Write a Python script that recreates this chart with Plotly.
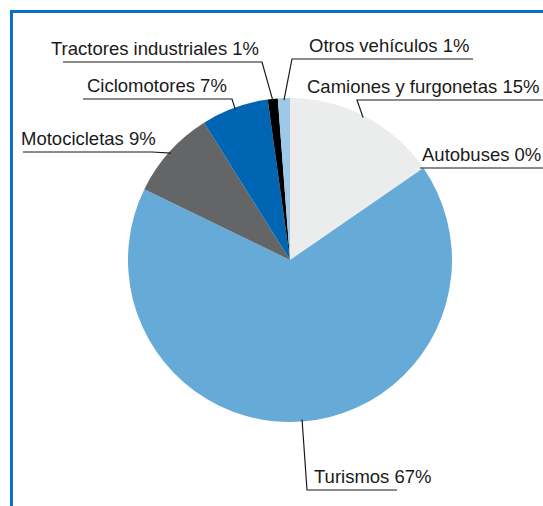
import math
import plotly.graph_objects as go

# Parque de vehículos por tipo (%)
categories = ["Camiones y furgonetas", "Autobuses", "Turismos", "Motocicletas",
              "Ciclomotores", "Tractores industriales", "Otros vehículos"]
values = [15.1, 0.3, 66.8, 8.9, 6.7, 1.0, 1.2]
colors = ["#ebedec", "#ebedec", "#66aad7", "#646567", "#0066b3", "#000000", "#9dc8e8"]

W, H = 543, 506
CX, CY, R = 290, 260, 162

# label placement (pixels): text anchor x, xanchor, underline y, underline x0..x1, elbow x
label_pos = {
    "Camiones y furgonetas": dict(tx=541, xa="right", uy=100, ux=(357, 543), ex=357),
    "Autobuses": dict(tx=543, xa="right", uy=168, ux=(420, 543), ex=420),
    "Turismos": dict(tx=312, xa="left", uy=490, ux=(307, 397), ex=307),
    "Motocicletas": dict(tx=19, xa="left", uy=152, ux=(23, 152), ex=152),
    "Ciclomotores": dict(tx=229, xa="right", uy=99, ux=(83, 232), ex=232),
    "Tractores industriales": dict(tx=261, xa="right", uy=62, ux=(63, 262), ex=262),
    "Otros vehículos": dict(tx=471, xa="right", uy=59, ux=(292, 473), ex=292),
}


def px(x):
    return x / W


def py(y):
    return 1 - y / H


fig = go.Figure(go.Pie(
    labels=categories, values=values, sort=False, direction="clockwise", rotation=0,
    marker=dict(colors=colors, line=dict(width=0)), textinfo="none", hoverinfo="label+percent",
    domain=dict(x=[px(CX - R), px(CX + R)], y=[py(CY + R), py(CY - R)]),
    showlegend=False,
))

total = sum(values)
shapes = []
annotations = []
cum = 0
for cat, v in zip(categories, values):
    mid = (cum + v / 2) / total * 2 * math.pi
    cum += v
    edge_x = CX + (R - 2) * math.sin(mid)
    edge_y = CY - (R - 2) * math.cos(mid)
    p = label_pos[cat]
    x0, x1 = p["ux"]
    far = x0 if p["ex"] == x1 else x1
    path = f"M {px(far)},{py(p['uy'])} L {px(p['ex'])},{py(p['uy'])} L {px(edge_x)},{py(edge_y)}"
    shapes.append(dict(type="path", xref="paper", yref="paper", path=path,
                       line=dict(color="#1a1a1a", width=1.2)))
    annotations.append(dict(
        x=px(p["tx"]), y=py(p["uy"] - 1), xref="paper", yref="paper",
        xanchor=p["xa"], yanchor="bottom", showarrow=False,
        text=f"{cat} {round(v / total * 100)}%",
        font=dict(family="Liberation Sans Narrow, Arial Narrow, sans-serif", size=18.5, color="#1a1a1a"),
    ))

# blue frame (left and top)
shapes.append(dict(type="path", xref="paper", yref="paper",
                   path=f"M {px(11.5)},0 L {px(11.5)},{py(11.5)} L 1,{py(11.5)}",
                   line=dict(color="#0a72c4", width=3)))

fig.update_layout(
    width=W, height=H, margin=dict(l=0, r=0, t=0, b=0),
    paper_bgcolor="white", plot_bgcolor="white",
    shapes=shapes, annotations=annotations,
)

fig.write_html("out.html", config={"displayModeBar": False},
               post_script="document.body.style.margin='0';document.body.style.overflow='hidden';")
